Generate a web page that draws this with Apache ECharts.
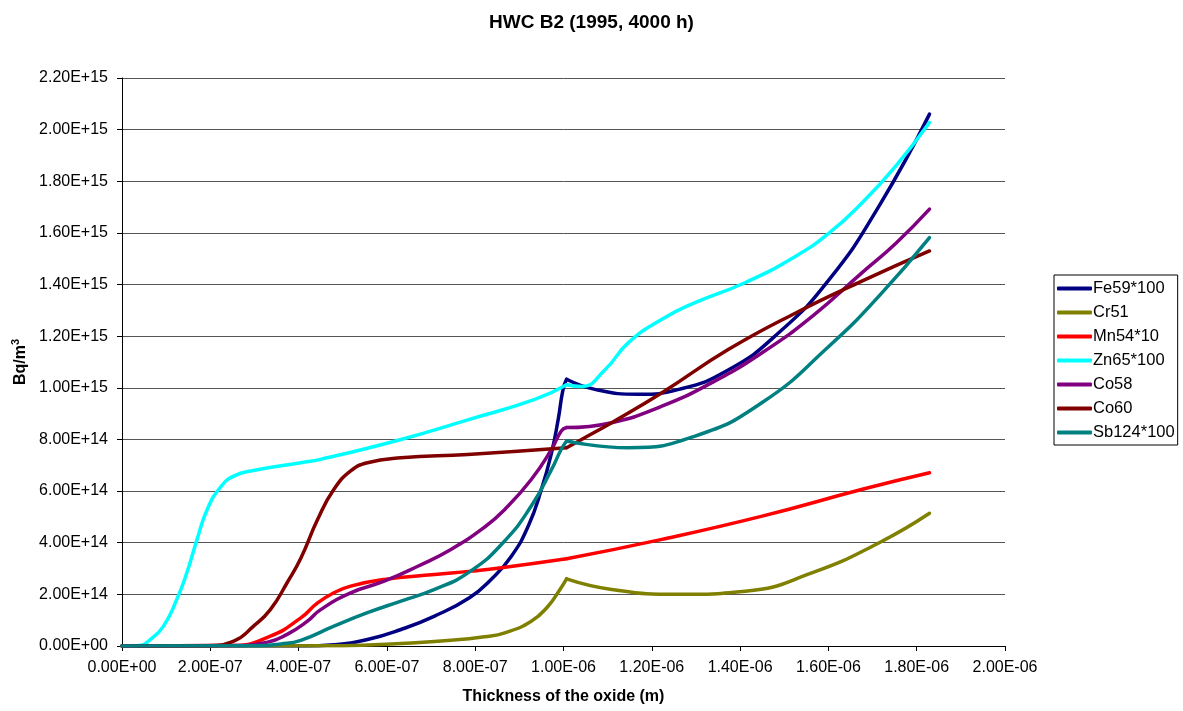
<!DOCTYPE html>
<html>
<head>
<meta charset="utf-8">
<script src="https://cdn.jsdelivr.net/npm/echarts@6/dist/echarts.min.js"></script>
<style>
html,body{margin:0;padding:0;background:#fff;}
#chart{width:1183px;height:711px;}
</style>
</head>
<body>
<div id="chart"></div>
<script>
// x values in units of 1E-7 m, y values in units of 1E14 Bq/m3
// Each series is split at the oxide interface (x = 1.007E-6): "A" = before, "B" = after
const BREAK_X = 10.07;
const seriesNames = ['Fe59*100','Cr51','Mn54*10','Zn65*100','Co58','Co60','Sb124*100'];
const seriesColors = ['#000080','#808000','#FF0000','#00FFFF','#800080','#800000','#008080'];

const fe59A = [[0,0],[4.1,0],[4.8,0.05],[5.56,0.25],[6.32,0.64],[7.08,1.16],[7.87,1.87],[8.36,2.58],[8.82,3.48],[9.2,4.64],[9.5,6.07],[9.73,7.49],[9.88,8.78],[9.99,9.94],[10.07,10.33]];
const fe59B = [[10.07,10.33],[10.71,9.94],[11.7,9.75],[12.61,9.94],[13.74,10.7],[14.88,12.14],[16.02,14.2],[17.15,17.05],[18.29,20.6]];

const cr51A = [[0,0],[5.0,0.01],[6.32,0.1],[7.45,0.22],[8.21,0.36],[8.67,0.51],[9.27,0.96],[9.65,1.54],[9.92,2.19],[10.07,2.6]];
const cr51B = [[10.07,2.6],[11.09,2.19],[12.61,2.0],[14.12,2.12],[15.64,2.84],[17.15,4.0],[18.29,5.14]];

const mn54A = [[0,0],[2.5,0.02],[3.36,0.38],[4.05,1.09],[4.43,1.67],[4.8,2.06],[5.18,2.32],[5.94,2.58],[7.08,2.77],[7.91,2.9],[8.59,3.03],[10.07,3.38]];
const mn54B = [[10.07,3.38],[12.23,4.13],[14.5,5.03],[16.77,6.07],[18.29,6.71]];

const zn65A = [[0,0],[0.41,0.02],[0.64,0.25],[0.94,0.77],[1.24,1.8],[1.47,2.84],[1.70,4.13],[1.93,5.29],[2.23,6.15],[2.53,6.58],[2.98,6.8],[4.05,7.1],[4.5,7.23],[6.32,8.0],[7.87,8.78],[9.35,9.55],[10.07,10.12]];
const zn65B = [[10.07,10.12],[10.41,10.05],[10.94,10.7],[11.47,11.75],[12.23,12.66],[12.98,13.3],[14.12,14.08],[15.26,15.1],[16.02,16.0],[16.77,17.18],[17.53,18.6],[18.29,20.28]];

const co58A = [[0,0],[2.5,0.02],[3.3,0.15],[3.74,0.45],[4.2,0.96],[4.5,1.41],[5.18,2.06],[5.94,2.51],[6.7,3.09],[7.45,3.74],[8.21,4.6],[8.67,5.29],[9.27,6.45],[9.73,7.62],[9.95,8.33],[10.07,8.46]];
const co58B = [[10.07,8.46],[11.09,8.65],[12.23,9.29],[13.36,10.2],[14.5,11.36],[15.64,12.78],[16.77,14.47],[17.53,15.6],[18.29,16.92]];

const co60A = [[0,0],[1.93,0.01],[2.53,0.19],[2.98,0.77],[3.36,1.41],[3.74,2.45],[4.05,3.4],[4.43,4.9],[4.8,6.07],[5.18,6.78],[5.56,7.1],[6.32,7.29],[7.83,7.42],[10.07,7.68]];
const co60B = [[10.07,7.68],[10.41,8.0],[11.09,8.65],[12.23,9.81],[13.74,11.49],[15.26,12.9],[16.77,14.14],[18.29,15.3]];

const sb124A = [[0,0],[3.0,0.01],[3.6,0.08],[4.05,0.22],[4.8,0.77],[5.56,1.29],[6.32,1.74],[7.08,2.19],[7.87,2.87],[8.63,4.0],[9.27,5.42],[9.73,6.84],[9.95,7.62],[10.07,7.94]];
const sb124B = [[10.07,7.94],[11.47,7.68],[12.98,8.13],[14.5,9.43],[16.02,11.62],[17.15,13.56],[18.29,15.82]];

const seriesData = [[fe59A,fe59B],[cr51A,cr51B],[mn54A,mn54B],[zn65A,zn65B],[co58A,co58B],[co60A,co60B],[sb124A,sb124B]];

const X_UNIT = 1e-7, Y_UNIT = 1e14;
const xMin = 0, xMax = 2e-6, xStep = 2e-7;
const yMin = 0, yMax = 2.2e15, yStep = 2e14;

function fmtExp(v) {
  let s = Number(v).toExponential(2).toUpperCase();
  return s.replace(/E([+-])(\d)$/, 'E$10$2');
}

const FONT = 'Arial, "Liberation Sans", sans-serif';
const series = [];
seriesNames.forEach((name, i) => {
  seriesData[i].forEach((seg, k) => {
    const s = {
      name: name,
      type: 'line',
      data: seg.map(p => [p[0] * X_UNIT, p[1] * Y_UNIT]),
      smooth: 0.5,
      symbol: 'none',
      lineStyle: { color: seriesColors[i], width: 3.5, cap: 'round', join: 'round' },
      itemStyle: { color: seriesColors[i] },
      z: 2 + i,
      animation: false
    };
    if (i === 0 && k === 0) {
      s.markLine = {
        silent: true, symbol: 'none', animation: false,
        label: { show: false },
        lineStyle: { color: '#000', width: 1, type: 'solid' },
        data: [{ xAxis: BREAK_X * X_UNIT }]
      };
    }
    series.push(s);
  });
});

const chart = echarts.init(document.getElementById('chart'));
chart.setOption({
  backgroundColor: '#fff',
  animation: false,
  title: {
    text: 'HWC B2 (1995, 4000 h)',
    left: 'center', top: 8,
    textStyle: { fontFamily: FONT, fontSize: 19, fontWeight: 'bold', color: '#000' }
  },
  legend: {
    data: seriesNames.map(n => ({ name: n, icon: 'roundRect' })),
    orient: 'vertical',
    left: 1054, top: 275,
    itemWidth: 35, itemHeight: 4,
    itemGap: 7,
    padding: [5, 3, 4, 3],
    borderColor: '#000', borderWidth: 1,
    textStyle: { fontFamily: FONT, fontSize: 16.5, color: '#000', padding: [0, 0, 0, -4] }
  },
  grid: { left: 122, right: 178, top: 78, bottom: 65, containLabel: false },
  xAxis: {
    type: 'value', min: xMin, max: xMax, interval: xStep,
    name: 'Thickness of the oxide (m)', nameLocation: 'middle', nameGap: 43,
    nameTextStyle: { fontFamily: FONT, fontSize: 16, fontWeight: 'bold', color: '#000' },
    axisLine: { show: true, lineStyle: { color: '#000', width: 1 } },
    axisTick: { show: true, length: 5, lineStyle: { color: '#000' } },
    axisLabel: { fontFamily: FONT, fontSize: 16, color: '#000', margin: 14, formatter: fmtExp },
    splitLine: { show: false }
  },
  yAxis: {
    type: 'value', min: yMin, max: yMax, interval: yStep,
    name: '{b|Bq/m}{s|3}', nameLocation: 'middle', nameGap: 91, nameRotate: 90,
    nameTextStyle: {
      fontFamily: FONT, fontSize: 16, fontWeight: 'bold', color: '#000',
      rich: {
        b: { fontFamily: FONT, fontSize: 16, fontWeight: 'bold', color: '#000' },
        s: { fontFamily: FONT, fontSize: 11, fontWeight: 'bold', color: '#000', verticalAlign: 'top', padding: [0, 0, 8, 0] }
      }
    },
    axisLine: { show: true, lineStyle: { color: '#000', width: 1 } },
    axisTick: { show: true, length: 5, lineStyle: { color: '#000' } },
    axisLabel: { fontFamily: FONT, fontSize: 16, color: '#000', margin: 14, formatter: fmtExp },
    splitLine: { show: true, lineStyle: { color: '#555', width: 1 } }
  },
  series: series
});
</script>
</body>
</html>
